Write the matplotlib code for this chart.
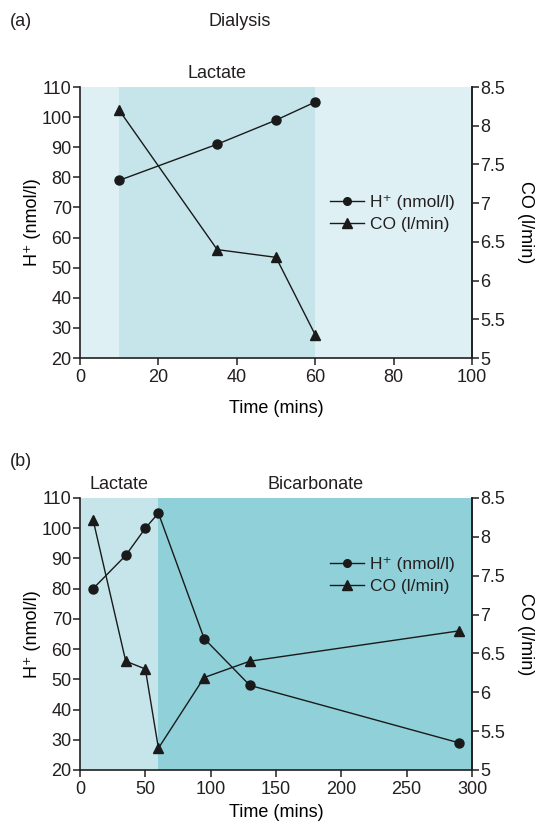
import matplotlib
matplotlib.use("Agg")
import matplotlib.pyplot as plt
from matplotlib.lines import Line2D
from matplotlib import font_manager

# --- data -------------------------------------------------------------
time_a = [10, 35, 50, 60]
h_a = [79, 91, 99, 105]
co_a = [8.2, 6.4, 6.3, 5.3]

time_b = [10, 35, 50, 60, 95, 130, 290]
h_b = [80, 91, 100, 105, 63.5, 48, 29]
co_b = [8.22, 6.4, 6.3, 5.28, 6.19, 6.4, 6.79]

h_ticks = [20, 30, 40, 50, 60, 70, 80, 90, 100, 110]
co_ticks = [5, 5.5, 6, 6.5, 7, 7.5, 8, 8.5]
co_tick_labels = ["5", "5.5", "6", "6.5", "7", "7.5", "8", "8.5"]
xticks_a = [0, 20, 40, 60, 80, 100]
xticks_b = [0, 50, 100, 150, 200, 250, 300]

# --- style ------------------------------------------------------------
names = {f.name for f in font_manager.fontManager.ttflist}
family = "Liberation Sans Narrow" if "Liberation Sans Narrow" in names else "Liberation Sans"
plt.rcParams["font.family"] = [family, "DejaVu Sans"]
plt.rcParams["font.size"] = 12
INK = "#231f20"
plt.rcParams["text.color"] = INK
plt.rcParams["axes.edgecolor"] = INK
plt.rcParams["xtick.color"] = INK
plt.rcParams["ytick.color"] = INK

PALE = "#dff0f4"
MID = "#c5e5ea"
DEEP = "#8fd0d9"
FS = 13

fig = plt.figure(figsize=(5.38, 8.26), dpi=100)
W, H = 538, 826


def make_axes(top_px, bottom_px):
    return fig.add_axes([80 / W, 1 - bottom_px / H, 392 / W, (bottom_px - top_px) / H])


def style_axes(ax, ax2, xmax, xticks, xlabel_pad):
    ax.set_xlim(0, xmax)
    ax.set_ylim(20, 110)
    ax2.set_ylim(5, 8.5)
    ax.set_yticks(h_ticks)
    ax2.set_yticks(co_ticks)
    ax2.set_yticklabels(co_tick_labels)
    ax.set_xticks(xticks)
    for a in (ax, ax2):
        a.spines["top"].set_visible(False)
        a.spines["left"].set_linewidth(1.2)
        a.spines["right"].set_linewidth(1.2)
        a.spines["bottom"].set_linewidth(1.2)
        a.tick_params(direction="out", length=5, width=1.1, labelsize=FS, pad=1)
    ax.tick_params(axis="x", pad=3)
    ax2.spines["left"].set_visible(False)
    ax2.spines["bottom"].set_visible(False)
    ax.set_xlabel("Time (mins)", fontsize=FS, labelpad=xlabel_pad)
    ax.set_ylabel("H⁺ (nmol/l)", fontsize=FS, labelpad=0)
    ax2.set_ylabel("CO (l/min)", fontsize=FS, rotation=270, labelpad=21)


def draw_series(ax, ax2, t, h, co):
    ax.plot(t, h, color="#1a1a1a", lw=1.0, marker="o", ms=6.5, zorder=5, clip_on=False)
    ax2.plot(t, co, color="#1a1a1a", lw=1.0, marker="^", ms=7.5, zorder=5, clip_on=False)


def add_legend(ax, x_anchor, y_anchor):
    handles = [
        Line2D([], [], color="#1a1a1a", lw=1.0, marker="o", ms=5.5),
        Line2D([], [], color="#1a1a1a", lw=1.0, marker="^", ms=6.5),
    ]
    ax.legend(handles, ["H⁺ (nmol/l)", "CO (l/min)"], loc="upper left",
              bbox_to_anchor=(x_anchor, y_anchor), frameon=False, fontsize=12.5,
              handlelength=2.0, handletextpad=0.3, labelspacing=0.4, borderpad=0)


# --- panel (a) --------------------------------------------------------
ax_a = make_axes(87, 358)
ax_a.set_facecolor(PALE)
ax_a.axvspan(10, 60, color=MID, lw=0, zorder=0)
ax_a2 = ax_a.twinx()
style_axes(ax_a, ax_a2, 100, xticks_a, 10)
draw_series(ax_a, ax_a2, time_a, h_a, co_a)
add_legend(ax_a2, 0.615, 0.635)
ax_a.text(35, 111.5, "Lactate", ha="center", va="bottom", fontsize=FS)
fig.text(10 / W, 1 - 21 / H, "(a)", ha="left", va="center", fontsize=FS)
fig.text(240 / W, 1 - 21 / H, "Dialysis", ha="center", va="center", fontsize=FS)

# --- panel (b) --------------------------------------------------------
ax_b = make_axes(498, 770)
ax_b.set_facecolor(PALE)
ax_b.axvspan(0, 60, color=MID, lw=0, zorder=0)
ax_b.axvspan(60, 300, color=DEEP, lw=0, zorder=0)
ax_b2 = ax_b.twinx()
style_axes(ax_b, ax_b2, 300, xticks_b, 4)
draw_series(ax_b, ax_b2, time_b, h_b, co_b)
add_legend(ax_b2, 0.615, 0.815)
ax_b.text(30, 111.5, "Lactate", ha="center", va="bottom", fontsize=FS)
ax_b.text(180, 111.5, "Bicarbonate", ha="center", va="bottom", fontsize=FS)
fig.text(10 / W, 1 - 462 / H, "(b)", ha="left", va="center", fontsize=FS)

fig.savefig("out.png", dpi=100)
